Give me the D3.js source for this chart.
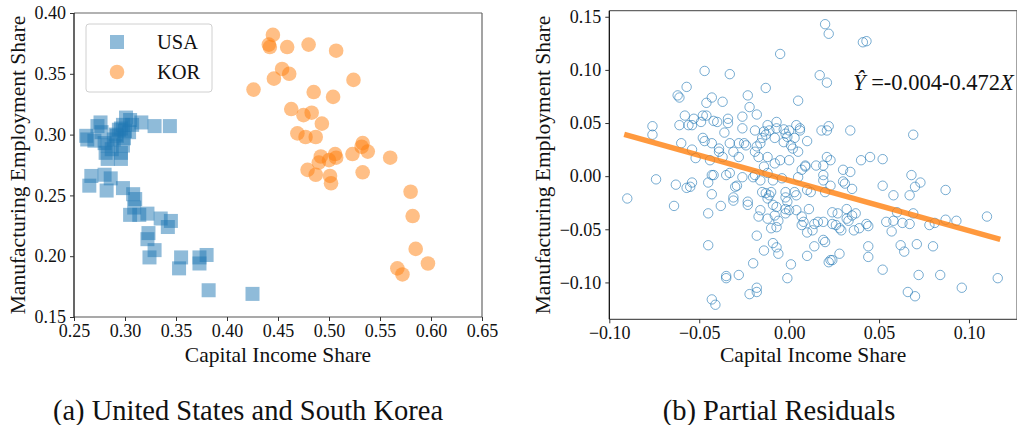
<!DOCTYPE html>
<html><head><meta charset="utf-8">
<script src="https://cdn.jsdelivr.net/npm/d3@7"></script>
<style>
body{margin:0;background:#fff}
svg{display:block}
text{font-family:"Liberation Serif","Times New Roman",serif;fill:#111}
</style>
</head><body>
<svg id="c" width="1017" height="425"></svg>
<script>
// ---------- DATA ----------
const usaPoints = [[0.262,0.299],[0.263,0.296],[0.273,0.307],[0.277,0.302],[0.270,0.295],[0.280,0.293],[0.283,0.291],[0.281,0.285],[0.283,0.280],[0.289,0.296],[0.291,0.300],[0.294,0.304],[0.298,0.308],[0.301,0.314],[0.296,0.285],[0.296,0.280],[0.298,0.291],[0.304,0.302],[0.307,0.308],[0.316,0.310],[0.329,0.307],[0.344,0.307],[0.276,0.310],[0.292,0.299],[0.299,0.297],[0.305,0.312],[0.296,0.305],[0.287,0.288],[0.300,0.303],
[0.267,0.266],[0.265,0.258],[0.280,0.267],[0.286,0.264],[0.282,0.254],[0.298,0.256],[0.308,0.251],[0.310,0.247],[0.309,0.240],[0.305,0.234],[0.314,0.234],[0.322,0.235],[0.335,0.231],[0.345,0.229],[0.342,0.224],[0.323,0.219],[0.322,0.214],[0.329,0.205],[0.324,0.199],[0.355,0.199],[0.353,0.190],[0.373,0.199],[0.380,0.201],[0.373,0.194],[0.382,0.172],[0.425,0.169]];
const korPoints = [[0.445,0.382],[0.441,0.374],[0.442,0.372],[0.459,0.372],[0.480,0.374],[0.507,0.369],[0.454,0.354],[0.461,0.350],[0.446,0.346],[0.426,0.337],[0.524,0.345],[0.485,0.335],[0.504,0.331],[0.463,0.321],[0.475,0.316],[0.483,0.318],[0.493,0.309],[0.469,0.301],[0.477,0.298],[0.487,0.298],[0.533,0.293],[0.532,0.290],[0.538,0.286],[0.523,0.284],[0.560,0.281],[0.506,0.284],[0.507,0.281],[0.492,0.282],[0.490,0.277],[0.500,0.279],[0.479,0.271],[0.487,0.267],[0.501,0.266],[0.502,0.260],[0.533,0.269],[0.580,0.253],[0.582,0.233],[0.585,0.206],[0.597,0.194],[0.567,0.190],[0.572,0.185]];
const residualPoints = [
[-0.076,0.047],[-0.076,0.039],[-0.062,0.076],[-0.061,0.074],[-0.057,0.084],[-0.047,0.099],[-0.033,0.096],[-0.061,0.048],[-0.058,0.057],[-0.056,0.048],[-0.054,0.048],[-0.053,0.054],[-0.049,0.051],[-0.048,0.057],[-0.046,0.057],[-0.046,0.069],[-0.043,0.074],[-0.037,0.070],[-0.042,0.052],[-0.040,0.051],[-0.034,0.054],[-0.034,0.050],[-0.036,0.041],[-0.060,0.031],[-0.054,0.025],[-0.052,0.017],[-0.048,0.036],[-0.047,0.033],[-0.043,0.031],[-0.039,0.026],[-0.039,0.023],[-0.037,0.018],[-0.044,0.015],[-0.033,0.031],
[-0.090,-0.021],[-0.074,-0.003],[-0.063,-0.008],[-0.064,-0.028],[-0.057,-0.011],[-0.055,-0.010],[-0.054,-0.006],[-0.045,-0.006],[-0.043,0.001],[-0.042,0.001],[-0.043,-0.017],[-0.038,-0.028],[-0.045,-0.035],[-0.045,-0.065],[-0.035,-0.094],[-0.035,-0.096],[-0.043,-0.116],[-0.041,-0.121],[-0.035,0.001],
[0.020,0.143],[0.022,0.134],[0.041,0.126],[0.043,0.127],[-0.005,0.115],[0.017,0.095],[0.021,0.088],[-0.013,0.083],[-0.023,0.076],[0.005,0.071],[-0.022,0.065],[-0.018,0.058],[-0.026,0.056],[-0.026,0.045],[-0.019,0.043],[-0.012,0.048],[-0.007,0.051],[-0.007,0.045],[-0.003,0.044],[-0.002,0.040],[0.000,0.043],[0.004,0.048],[0.006,0.045],[0.006,0.043],[0.010,0.033],[0.003,0.036],[0.001,0.029],[-0.001,0.037],[-0.003,0.032],[-0.008,0.036],[-0.013,0.039],[-0.014,0.042],[-0.011,0.043],[-0.015,0.036],[-0.016,0.031],[-0.018,0.028],[-0.019,0.023],[-0.025,0.031],[-0.024,0.029],[-0.028,0.031],[-0.031,0.023],[-0.028,0.018],[-0.017,0.018],[-0.012,0.018],[-0.005,0.015],[0.000,0.015],[0.002,0.026],[0.005,0.023],[0.018,0.043],[0.021,0.043],[0.022,0.047],[0.034,0.043],[0.021,0.018],[0.023,0.015],[0.040,0.015],[0.045,0.018],[0.015,0.010],[0.009,0.010],[-0.008,0.012],
[0.069,0.039],[0.052,0.016],
[-0.033,0.003],[-0.030,-0.010],[-0.029,-0.009],[-0.031,-0.020],[-0.031,-0.023],[-0.023,-0.024],[-0.023,-0.027],[-0.026,-0.001],[-0.020,-0.001],[-0.019,0.001],[-0.014,0.009],[-0.012,0.003],[-0.016,-0.004],[-0.015,-0.015],[-0.013,-0.016],[-0.011,-0.018],[-0.012,-0.021],[-0.010,-0.015],[-0.009,-0.004],[-0.004,-0.002],[-0.002,-0.015],[-0.002,-0.020],[-0.001,-0.024],[0.003,-0.015],[0.004,-0.018],[0.005,-0.001],[0.007,0.006],[0.009,0.009],[0.010,-0.013],[0.012,-0.015],[0.011,-0.031],[0.019,0.010],[0.019,0.001],[0.019,-0.004],[0.020,-0.015],[0.023,-0.009],[0.030,0.006],[0.034,0.004],[0.030,-0.005],[0.031,-0.007],[0.035,-0.012],
[-0.016,-0.032],[-0.017,-0.038],[-0.012,-0.040],[-0.008,-0.037],[-0.006,-0.042],[-0.002,-0.035],[-0.002,-0.031],[0.000,-0.032],[0.004,-0.032],[-0.009,-0.027],[-0.007,-0.029],[-0.010,-0.049],[-0.007,-0.048],[-0.018,-0.056],[-0.009,-0.063],[-0.007,-0.067],[-0.006,-0.073],[-0.014,-0.070],[0.007,-0.038],[0.008,-0.043],[0.007,-0.046],[0.010,-0.053],[0.013,-0.051],[0.014,-0.045],[0.016,-0.043],[0.019,-0.043],[0.019,-0.060],[0.020,-0.062],[0.014,-0.066],[0.010,-0.075],[0.024,-0.034],[0.027,-0.035],[0.026,-0.046],[0.028,-0.049],[0.029,-0.051],[0.024,-0.045],[0.032,-0.040],[0.032,-0.031],[0.033,-0.042],[0.035,-0.037],[0.037,-0.035],[0.036,-0.051],[0.039,-0.049],[0.043,-0.045],[0.044,-0.047],[0.028,-0.073],[0.023,-0.079],[0.022,-0.081],[0.024,-0.079],[0.044,-0.066],[0.044,-0.076],[-0.020,-0.082],[0.001,-0.083],[-0.001,-0.096],[-0.028,-0.093],[-0.018,-0.105],[-0.018,-0.109],[-0.022,-0.111],
[0.068,0.001],[0.073,-0.006],[0.070,-0.010],[0.052,-0.009],[0.058,-0.018],[0.067,-0.018],[0.087,-0.013],[0.060,-0.034],[0.069,-0.035],[0.054,-0.043],[0.058,-0.042],[0.063,-0.044],[0.067,-0.045],[0.057,-0.052],[0.078,-0.046],[0.081,-0.044],[0.087,-0.041],[0.093,-0.042],[0.110,-0.038],[0.062,-0.065],[0.064,-0.071],[0.071,-0.064],[0.080,-0.066],[0.052,-0.088],[0.072,-0.093],[0.084,-0.093],[0.096,-0.105],[0.116,-0.096],[0.066,-0.109],[0.070,-0.113]];
const fitIntercept = -0.004, fitSlope = -0.472;
const fitXExtent = [-0.0917, 0.1174];
const leftXTicks = [0.25,0.30,0.35,0.40,0.45,0.50,0.55,0.60,0.65];
const leftYTicks = [0.15,0.20,0.25,0.30,0.35,0.40];
const rightXTicks = [-0.10,-0.05,0.00,0.05,0.10];
const rightYTicks = [-0.10,-0.05,0.00,0.05,0.10,0.15];
const legendLabels = ["USA","KOR"];
const xLabel = "Capital Income Share", yLabel = "Manufacturing Employment Share";
const captions = ["(a) United States and South Korea","(b) Partial Residuals"];

// ---------- CHART ----------
const svg = d3.select("#c");
const blue = "#1f77b4", orange = "#ff7f0e";
const fmt2 = d3.format(".2f");

function frame(g, x, y) {
  const [x0,x1] = x.range(), [y1,y0] = y.range();
  g.append("line").attr("x1",x0).attr("x2",x1).attr("y1",y0).attr("y2",y0).attr("stroke","#666").attr("stroke-width",1.2);
  g.append("line").attr("x1",x1).attr("x2",x1).attr("y1",y0).attr("y2",y1).attr("stroke","#666").attr("stroke-width",1.2);
  g.append("line").attr("x1",x0).attr("x2",x1).attr("y1",y1).attr("y2",y1).attr("stroke","#555").attr("stroke-width",1.2);
  g.append("line").attr("x1",x0).attr("x2",x0).attr("y1",y0).attr("y2",y1).attr("stroke","#000").attr("stroke-width",1.2);
}
function axes(g, x, y, xt, yt) {
  const ax = g.append("g").attr("transform",`translate(0,${y.range()[0]})`)
    .call(d3.axisBottom(x).tickValues(xt).tickFormat(fmt2).tickSize(4).tickPadding(3).tickSizeOuter(0));
  const ay = g.append("g").attr("transform",`translate(${x.range()[0]},0)`)
    .call(d3.axisLeft(y).tickValues(yt).tickFormat(fmt2).tickSize(4).tickPadding(4).tickSizeOuter(0));
  [ax,ay].forEach(a=>{
    a.select(".domain").remove();
    a.selectAll("text").attr("font-size",18).attr("font-family","Liberation Serif").attr("fill","#111");
    a.selectAll("line").attr("stroke","#333");
  });
}
function labels(x, y, yLabelX) {
  const cx = (x.range()[0]+x.range()[1])/2, cy = (y.range()[0]+y.range()[1])/2;
  svg.append("text").attr("x",cx).attr("y",362).attr("text-anchor","middle").attr("font-size",21.5).text(xLabel);
  svg.append("text").attr("transform",`translate(${yLabelX},${cy}) rotate(-90)`).attr("text-anchor","middle").attr("font-size",21.5).text(yLabel);
}

// Left panel
const xL = d3.scaleLinear().domain([0.25,0.65]).range([74,482]);
const yL = d3.scaleLinear().domain([0.15,0.40]).range([317,13]);
const gL = svg.append("g");
gL.append("g").selectAll("rect").data(usaPoints).join("rect")
  .attr("x",d=>xL(d[0])-7).attr("y",d=>yL(d[1])-7).attr("width",14).attr("height",14)
  .attr("fill",blue).attr("fill-opacity",0.5);
gL.append("g").selectAll("circle").data(korPoints).join("circle")
  .attr("cx",d=>xL(d[0])).attr("cy",d=>yL(d[1])).attr("r",7.3)
  .attr("fill",orange).attr("fill-opacity",0.5);
frame(gL,xL,yL);
axes(gL,xL,yL,leftXTicks,leftYTicks);
labels(xL,yL,25);

// Legend
const lg = svg.append("g").attr("transform","translate(86,24)");
lg.append("rect").attr("width",126).attr("height",68).attr("rx",3)
  .attr("fill","#fff").attr("fill-opacity",0.8).attr("stroke","#d0d0d0");
lg.append("rect").attr("x",24).attr("y",11).attr("width",14).attr("height",14).attr("fill",blue).attr("fill-opacity",0.5);
lg.append("circle").attr("cx",31).attr("cy",48).attr("r",7.3).attr("fill",orange).attr("fill-opacity",0.5);
lg.selectAll("text.l").data(legendLabels).join("text").attr("class","l")
  .attr("x",71).attr("y",(d,i)=>25+i*30).attr("font-size",20.5).text(d=>d);

// Right panel
const xR = d3.scaleLinear().domain([-0.10,0.1267]).range([609.3,1017]);
const yR = d3.scaleLinear().domain([-0.1347,0.1557]).range([319.3,10.7]);
const gR = svg.append("g");
gR.append("g").selectAll("circle").data(residualPoints).join("circle")
  .attr("cx",d=>xR(d[0])).attr("cy",d=>yR(d[1])).attr("r",4.7)
  .attr("fill","none").attr("stroke",blue).attr("stroke-opacity",0.6).attr("stroke-width",1);
gR.append("line")
  .attr("x1",xR(fitXExtent[0])).attr("y1",yR(fitIntercept+fitSlope*fitXExtent[0]))
  .attr("x2",xR(fitXExtent[1])).attr("y2",yR(fitIntercept+fitSlope*fitXExtent[1]))
  .attr("stroke",orange).attr("stroke-opacity",0.8).attr("stroke-width",5.5);
frame(gR,xR,yR);
axes(gR,xR,yR,rightXTicks,rightYTicks);
labels(xR,yR,550);

// Equation
const eq = svg.append("text").attr("x",853).attr("y",90).attr("font-size",22.5);
eq.append("tspan").attr("font-style","italic").text("Ŷ");
eq.append("tspan").text(` =${fitIntercept.toFixed(3)}-${Math.abs(fitSlope).toFixed(3)}`);
eq.append("tspan").attr("font-style","italic").text("X");

// Captions
svg.selectAll("text.cap").data(captions).join("text").attr("class","cap")
  .attr("x",(d,i)=>i===0?248:779).attr("y",420).attr("text-anchor","middle").attr("font-size",28.5).text(d=>d);
</script>
</body></html>
